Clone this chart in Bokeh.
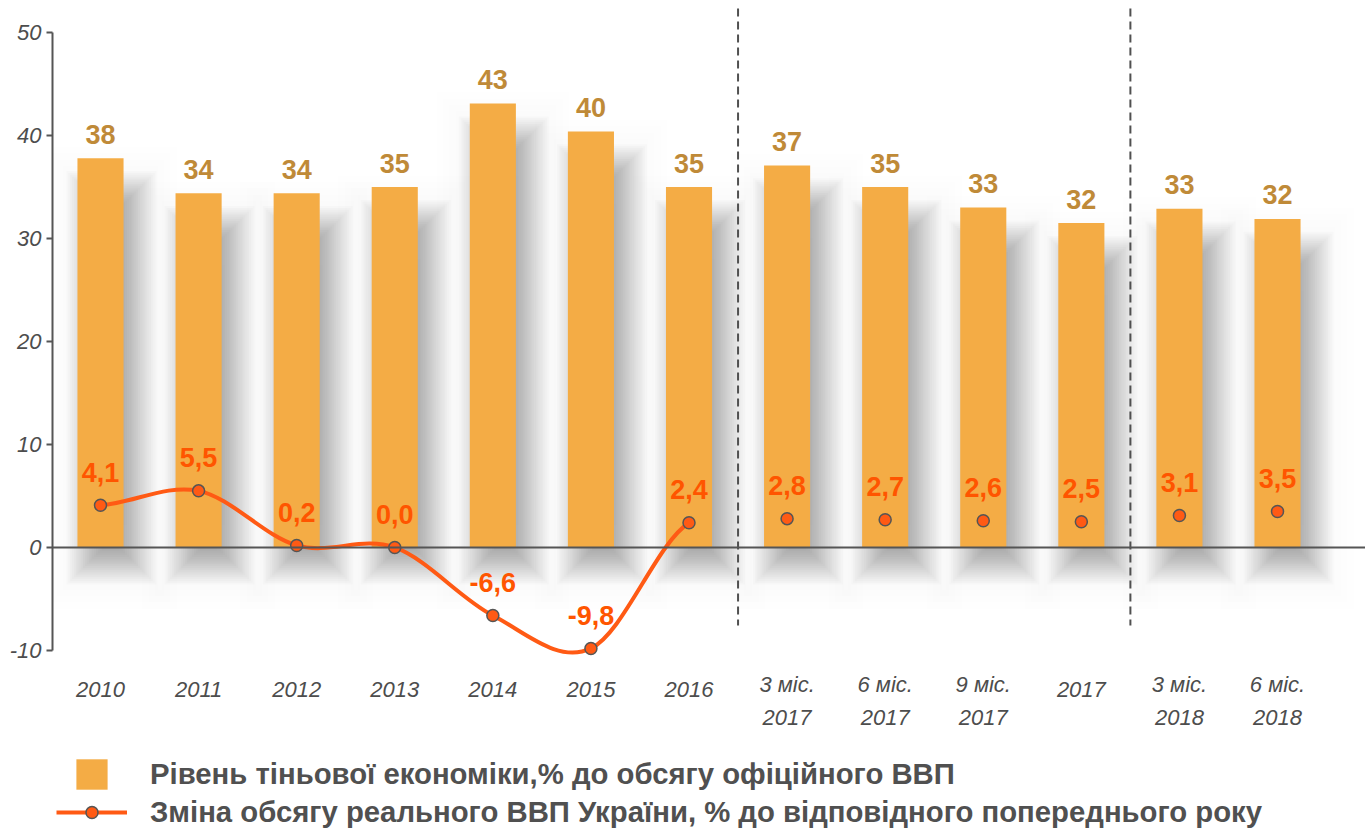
import numpy as np
from bokeh.plotting import figure
from bokeh.models import Span, FixedTicker, Legend, LegendItem, Range1d
from bokeh.core.properties import value
from bokeh.embed import file_html
from bokeh.resources import INLINE

# ---------------- data ----------------
categories = ["2010", "2011", "2012", "2013", "2014", "2015", "2016",
              "3 міс.\n2017", "6 міс.\n2017", "9 міс.\n2017", "2017",
              "3 міс.\n2018", "6 міс.\n2018"]
groups = ["рік"] * 7 + ["2017"] * 4 + ["2018"] * 2
shadow_share = [37.8, 34.4, 34.4, 35.0, 43.1, 40.4, 35.0, 37.1, 35.0, 33.0, 31.5, 32.9, 31.9]
shadow_labels = ["38", "34", "34", "35", "43", "40", "35", "37", "35", "33", "32", "33", "32"]
gdp_change = [4.1, 5.5, 0.2, 0.0, -6.6, -9.8, 2.4, 2.8, 2.7, 2.6, 2.5, 3.1, 3.5]
gdp_labels = ["4,1", "5,5", "0,2", "0,0", "-6,6", "-9,8", "2,4", "2,8", "2,7", "2,6", "2,5", "3,1", "3,5"]
y_ticks = [-10, 0, 10, 20, 30, 40, 50]
legend_bar = "Рівень тіньової економіки,% до обсягу офіційного ВВП"
legend_line = "Зміна обсягу реального ВВП України, % до відповідного попереднього року"

# ---------------- styles ----------------
BAR = "#F4AC45"
BAR_LABEL = "#BF8A38"
LINE = "#FF5A14"
LINE_LABEL = "#FF5500"
GREY = "#505050"
SANS = "Liberation Sans"

W, H = 1365, 833
LEFT = 52
x0r, x1r = -0.4894, 12.897
y0r, y1r = -27.77, 53.11
XU = (W - LEFT) / (x1r - x0r)   # px per x unit
YU = H / (y1r - y0r)            # px per y unit

p = figure(width=W, height=H, output_backend="svg", toolbar_location=None,
           x_range=Range1d(x0r, x1r), y_range=Range1d(y0r, y1r),
           x_axis_location=None, min_border_left=LEFT, min_border_right=0,
           min_border_top=0, min_border_bottom=0)
p.outline_line_color = None
p.grid.visible = False
p.background_fill_color = "white"
p.border_fill_color = "white"

idx = np.arange(len(categories), dtype=float)
bw = 0.47

# ---------------- shadows (soft, layered) ----------------
def shadow_layers(blur, n, core):
    L_, R_, T_, B_ = [], [], [], []
    dl, dr, dt, db = core
    for i, v in enumerate(shadow_share):
        for k in range(n):
            e = blur * (1 - 2 * (k + 0.5) / n)
            L_.append(idx[i] - bw / 2 + (dl - e) / XU)
            R_.append(idx[i] + bw / 2 + (dr + e) / XU)
            T_.append(v - (dt - e) / YU)
            B_.append(0 - (db + e) / YU)
    return dict(left=L_, right=R_, top=T_, bottom=B_)

p.quad(**shadow_layers(45, 14, (8, 12, 30, 20)), fill_color="black", fill_alpha=0.004, line_color=None)
p.quad(**shadow_layers(24, 26, (12, 10, 36, 14)), fill_color="black", fill_alpha=0.014, line_color=None)

# ---------------- bars ----------------
bars = p.vbar(x=idx, top=shadow_share, bottom=0, width=bw, fill_color=BAR, line_color=None)

p.add_layout(Span(location=0, dimension="width", line_color="#555555", line_width=2))

# ---------------- dividers between periods ----------------
bounds = [i - 0.5 for i in range(1, len(groups)) if groups[i] != groups[i - 1]]
p.segment(x0=bounds, x1=bounds, y0=[(547 - 8) / YU] * len(bounds), y1=[-(625 - 547) / YU] * len(bounds),
          line_color=GREY, line_width=2, line_dash="8 5")

# ---------------- smoothed GDP line (annual points) ----------------
ann = [i for i, g in enumerate(groups) if g == "рік"]
xs = idx[ann]
ys = np.array([gdp_change[i] for i in ann])
n = len(ys)
m = np.array([(ys[min(i + 1, n - 1)] - ys[max(i - 1, 0)]) / 2 for i in range(n)])
p.bezier(x0=xs[:-1], y0=ys[:-1], x1=xs[1:], y1=ys[1:],
         cx0=xs[:-1] + 1 / 3, cy0=ys[:-1] + m[:-1] / 3,
         cx1=xs[1:] - 1 / 3, cy1=ys[1:] - m[1:] / 3,
         line_color=LINE, line_width=4)

pts = p.scatter(x=idx, y=gdp_change, size=12, fill_color=LINE, line_color="#555555", line_width=1.5)

# ---------------- labels ----------------
p.text(x=idx, y=shadow_share, text=shadow_labels, text_align="center", text_baseline="alphabetic",
       y_offset=-24, text_font=value(SANS), text_font_style="bold", text_font_size="27px",
       text_color=BAR_LABEL)
p.text(x=idx, y=gdp_change, text=gdp_labels, text_align="center", text_baseline="alphabetic",
       y_offset=-33, text_font=value(SANS), text_font_style="bold", text_font_size="27px",
       text_color=LINE_LABEL)
cat_offsets = [0 if "\n" in c else 10 for c in categories]
p.text(x=idx, y=[-(672 - 547) / YU] * len(idx), text=categories, y_offset=cat_offsets,
       text_align="center", text_baseline="top", text_font=value(SANS), text_font_style="italic",
       text_font_size="22px", text_color="#4d4d4d", text_line_height=1.32)

# ---------------- y axis ----------------
ax = p.yaxis[0]
ax.ticker = FixedTicker(ticks=y_ticks)
ax.bounds = (-10, 50)
ax.axis_line_color = "#555555"
ax.axis_line_width = 2
ax.major_tick_line_color = "#555555"
ax.major_tick_line_width = 2
ax.major_tick_out = 6
ax.major_tick_in = 0
ax.minor_tick_line_color = None
ax.major_label_standoff = 5
ax.major_label_overrides = {t: str(t) for t in y_ticks}
ax.major_label_text_font = SANS
ax.major_label_text_font_style = "italic"
ax.major_label_text_font_size = "22px"
ax.major_label_text_color = "#4d4d4d"

# ---------------- legends ----------------
dummy_line = p.line(x=[np.nan, np.nan], y=[np.nan, np.nan], line_color=LINE, line_width=4)
leg_common = dict(background_fill_alpha=0, border_line_color=None, padding=0, margin=0,
                  label_text_font=SANS, label_text_font_style="bold", label_text_font_size="29.3px",
                  label_text_color=GREY)
leg1 = Legend(items=[LegendItem(label=legend_bar, renderers=[bars])], location=(20, 40),
              glyph_width=39, glyph_height=38, label_standoff=39, **leg_common)
leg2 = Legend(items=[LegendItem(label=legend_line, renderers=[dummy_line, pts])], location=(4, 4),
              glyph_width=71, glyph_height=30, label_standoff=23, **leg_common)
p.add_layout(leg1, "center")
p.add_layout(leg2, "center")

open("out.html", "w").write(file_html(p, INLINE))
